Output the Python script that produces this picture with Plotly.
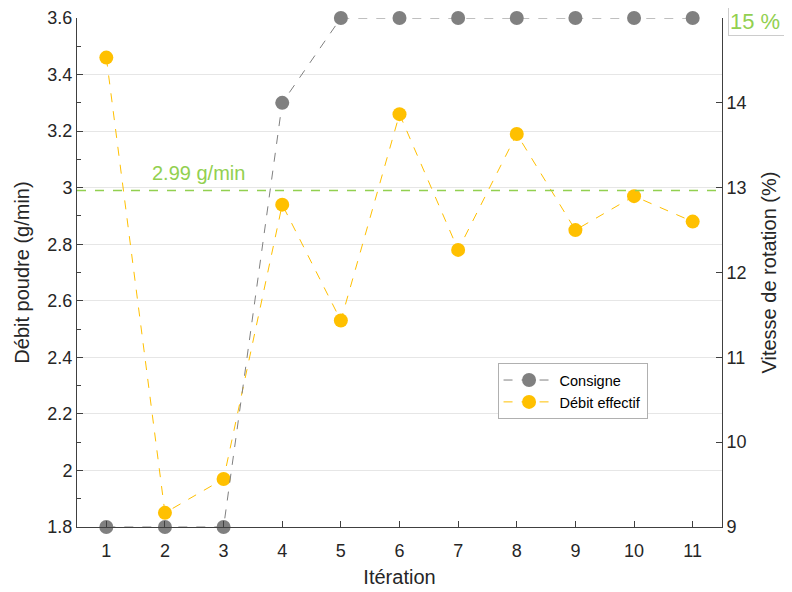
import plotly.graph_objects as go

iterations = list(range(1, 12))
consigne = [9, 9, 9, 14, 15, 15, 15, 15, 15, 15, 15]
debit_effectif = [3.46, 1.85, 1.97, 2.94, 2.53, 3.26, 2.78, 3.19, 2.85, 2.97, 2.88]
cible = 2.99
cible_label = "2.99 g/min"
max_label = "15 %"

GREY = "#808080"
GOLD = "#FFC000"
GREEN = "#92D050"
FONT = "Liberation Sans, Arial, sans-serif"

fig = go.Figure()
fig.add_trace(go.Scatter(
    x=iterations, y=consigne, name="Consigne", yaxis="y2",
    mode="lines+markers", cliponaxis=False,
    line=dict(color=GREY, width=1, dash="dash"),
    marker=dict(color=GREY, size=14),
))
fig.add_trace(go.Scatter(
    x=iterations, y=debit_effectif, name="Débit effectif",
    mode="lines+markers", cliponaxis=False,
    line=dict(color=GOLD, width=1, dash="dash"),
    marker=dict(color=GOLD, size=14),
))
fig.add_shape(type="line", xref="paper", x0=0, x1=1, yref="y", y0=cible, y1=cible,
              line=dict(color=GREEN, width=1.5, dash="dash"))
fig.add_annotation(x=2.57, y=cible, xref="x", yref="y", text=cible_label, showarrow=False,
                   yanchor="bottom", yshift=4, font=dict(color=GREEN, size=20, family=FONT))
fig.add_annotation(x=1.0, y=1.0, xref="paper", yref="paper", text=max_label, showarrow=False,
                   xanchor="left", yanchor="top", xshift=6, yshift=11,
                   bordercolor="#cccccc", borderwidth=1,
                   borderpad=1, bgcolor="white", width=60,
                   align="left",
                   font=dict(color=GREEN, size=22, family=FONT))

fig.update_layout(
    width=784, height=584,
    margin=dict(l=69, r=70, t=10, b=65, autoexpand=False),
    paper_bgcolor="white", plot_bgcolor="white",
    font=dict(family=FONT, size=18, color="#262626"),
    showlegend=True,
    legend=dict(x=0.652, y=0.322, xanchor="left", yanchor="top",
                bordercolor="#b0b0b0", borderwidth=1, bgcolor="white",
                font=dict(size=14.5, color="#000000"), tracegroupgap=0,
                itemwidth=51),
    xaxis=dict(range=[0.5, 11.5], tickmode="array", tickvals=iterations, automargin=False,
               showgrid=False, zeroline=False, showline=True, linecolor="#404040", linewidth=1,
               ticks="inside", ticklen=6, tickcolor="#404040", ticklabelstandoff=7,
               title=dict(text="Itération", font=dict(size=20), standoff=10)),
    yaxis=dict(range=[1.8, 3.6], tickmode="array", automargin=False,
               tickvals=[1.8, 2.0, 2.2, 2.4, 2.6, 2.8, 3.0, 3.2, 3.4, 3.6],
               ticktext=["1.8", "2", "2.2", "2.4", "2.6", "2.8", "3", "3.2", "3.4", "3.6"],
               showgrid=True, gridcolor="#e6e6e6", zeroline=False,
               showline=True, linecolor="#404040", linewidth=1,
               ticks="inside", ticklen=6, tickcolor="#404040",
               minor=dict(tickvals=[1.9, 2.1, 2.3, 2.5, 2.7, 2.9, 3.1, 3.3, 3.5],
                          ticks="inside", ticklen=4, tickcolor="#404040", showgrid=False),
               title=dict(text="Débit poudre (g/min)", font=dict(size=20), standoff=12)),
    yaxis2=dict(range=[9, 15], overlaying="y", side="right", tickmode="array", automargin=False,
                tickvals=[9, 10, 11, 12, 13, 14, 15],
                ticktext=["9", "10", "11", "12", "13", "14", ""],
                showgrid=False, zeroline=False, showline=True, linecolor="#404040", linewidth=1,
                ticks="inside", ticklen=6, tickcolor="#404040",
                title=dict(text="Vitesse de rotation (%)", font=dict(size=20), standoff=16)),
)

fig.write_html("out.html")
